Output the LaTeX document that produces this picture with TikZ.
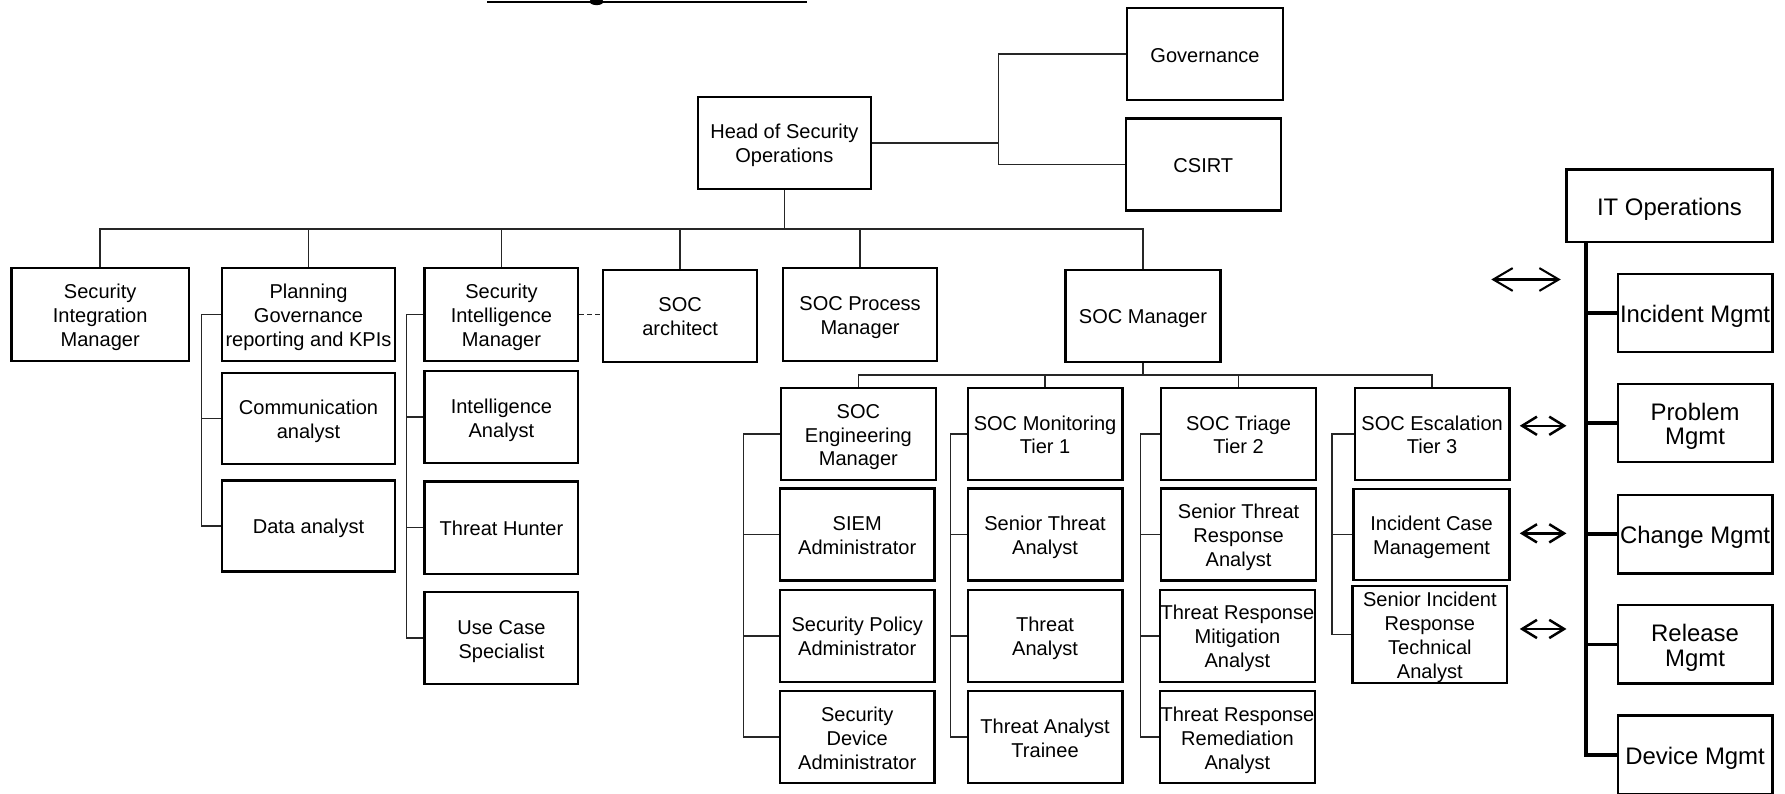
\documentclass[tikz,border=0pt]{standalone}
\usepackage{fontspec}
\setmainfont{Liberation Sans}
\usetikzlibrary{arrows.meta,calc}
\newcommand\bx[1]{\rule{0pt}{1.03em}#1\rule[-0.23em]{0pt}{0.23em}}
\begin{document}
\begin{tikzpicture}[x=1pt,y=-1pt]
\tikzset{
  box/.style={draw, line width=2pt, align=center, inner sep=0pt, font=\fontsize{17.6}{21}\selectfont},
  itbox/.style={box, font=\fontsize{21}{21.5}\selectfont},
  sz/.style 2 args={minimum width=#1, minimum height=#2},
  conn/.style={line width=1.3pt, black!85},
  itconn/.style={line width=3.8pt, line cap=rect},
  itbr/.style={line width=3.2pt},
  dbl/.style={{Straight Barb[length=17pt,width=20pt]}-{Straight Barb[length=17pt,width=20pt]}, line width=1.8pt},
  dbls/.style={{Straight Barb[length=13pt,width=16pt]}-{Straight Barb[length=13pt,width=16pt]}, line width=2.2pt},
}
\useasboundingbox (0,0) rectangle (1568,697);

% title underline (cut off at the top)
\coordinate (tl) at (428,1.5);
\coordinate (tr) at (709,1.5);
\draw[line width=2pt] (tl) -- (tr);
\fill (524,1.5) ellipse (6 and 3);

% top
\node[box, sz={152pt}{81pt}] (head) at (689,125.5) {\bx{Head of Security\\Operations}};
\node[box, sz={137pt}{81pt}] (gov) at (1058.5,47.5) {\bx{Governance}};
\node[box, sz={136pt}{81pt}] (csirt) at (1057,144.5) {\bx{CSIRT}};

% level 1
\node[box, sz={156pt}{81.5pt}] (sim) at (88,276.25) {\bx{Security\\Integration\\Manager}};
\node[box, sz={152pt}{81.5pt}] (pg) at (271,276.25) {\bx{Planning\\Governance\\reporting and KPIs}};
\node[box, sz={135pt}{81.5pt}] (sint) at (440.5,276.25) {\bx{Security\\Intelligence\\Manager}};
\node[box, sz={135pt}{81pt}] (arch) at (597.5,277.5) {\bx{SOC\\architect}};
\node[box, sz={135pt}{81.5pt}] (proc) at (755.5,276.25) {\bx{SOC Process\\Manager}};
\node[box, sz={136pt}{81pt}] (socm) at (1004,277.5) {\bx{SOC Manager}};

% planning children
\node[box, sz={152pt}{80pt}] (comm) at (271,367.6) {\bx{Communication\\analyst}};
\node[box, sz={152pt}{80pt}] (data) at (271,462) {\bx{Data analyst}};

% intelligence children
\node[box, sz={135pt}{81pt}] (ia) at (440.5,366.5) {\bx{Intelligence\\Analyst}};
\node[box, sz={135pt}{81pt}] (th) at (440.5,463.5) {\bx{Threat Hunter}};
\node[box, sz={135pt}{81pt}] (uc) at (440.5,560.5) {\bx{Use Case\\Specialist}};

% level 2
\node[box, sz={136pt}{80.5pt}] (eng) at (754,381.25) {\bx{SOC\\Engineering\\Manager}};
\node[box, sz={136pt}{80.5pt}] (mon) at (918,381.25) {\bx{SOC Monitoring\\Tier 1}};
\node[box, sz={136pt}{80.5pt}] (tri) at (1088,381.25) {\bx{SOC Triage\\Tier 2}};
\node[box, sz={136pt}{80.5pt}] (esc) at (1258,381.25) {\bx{SOC Escalation\\Tier 3}};

\node[box, sz={136pt}{81pt}] (siem) at (753,469.5) {\bx{SIEM\\Administrator}};
\node[box, sz={136pt}{81pt}] (pol) at (753,558.5) {\bx{Security Policy\\Administrator}};
\node[box, sz={136pt}{81pt}] (dev) at (753,647.5) {\bx{Security\\Device\\Administrator}};

\node[box, sz={136pt}{81pt}] (sta) at (918,469.5) {\bx{Senior Threat\\Analyst}};
\node[box, sz={136pt}{81pt}] (ta) at (918,558.5) {\bx{Threat\\Analyst}};
\node[box, sz={136pt}{81pt}] (tat) at (918,647.5) {\bx{Threat Analyst\\Trainee}};

\node[box, sz={136pt}{81pt}] (stra) at (1088,469.5) {\bx{Senior Threat\\Response\\Analyst}};
\node[box, sz={136pt}{81pt}] (trm) at (1087,558.5) {\bx{Threat Response\\Mitigation\\Analyst}};
\node[box, sz={136pt}{81pt}] (trr) at (1087,647.5) {\bx{Threat Response\\Remediation\\Analyst}};

\node[box, sz={137pt}{80pt}] (icm) at (1257.5,469.5) {\bx{Incident Case\\Management}};
\node[box, sz={136pt}{81pt}] (sirt) at (1256,557.5) {\bx{Senior Incident\\Response\\Technical\\Analyst}};

% IT operations
\node[itbox, sz={181pt}{63.5pt}] (itops) at (1466.5,180.75) {\bx{IT Operations}};
\node[itbox, sz={136pt}{69pt}] (inc) at (1489,275) {\bx{Incident Mgmt}};
\node[itbox, sz={136pt}{69pt}] (prob) at (1489,371.5) {\bx{Problem\\Mgmt}};
\node[itbox, sz={136pt}{69pt}] (chg) at (1489,469.3) {\bx{Change Mgmt}};
\node[itbox, sz={136pt}{69pt}] (rel) at (1489,566) {\bx{Release\\Mgmt}};
\node[itbox, sz={136pt}{69pt}] (devm) at (1489,663) {\bx{Device Mgmt}};

% head connectors
\coordinate (gj) at (877,125.5);
\draw[conn] (head.east) -- (gj);
\draw[conn] (gov.west) -| (gj) |- (csirt.west);

\coordinate (bus1) at (689,201);
\draw[conn] (head.south) -- (bus1);
\draw[conn] (sim.north) -- (sim.north |- bus1) -- (socm.north |- bus1) -- (socm.north);
\draw[conn] (pg.north) -- (pg.north |- bus1);
\draw[conn] (sint.north) -- (sint.north |- bus1);
\draw[conn] (arch.north) -- (arch.north |- bus1);
\draw[conn] (proc.north) -- (proc.north |- bus1);

\draw[conn, dash pattern=on 4pt off 3pt] (sint.east) -- (sint.east -| arch.west);

% planning spine
\coordinate (pgs) at (177,276.25);
\draw[conn] (pg.west) -- (pgs) |- (data.west);
\draw[conn] (comm.west) -- (comm.west -| pgs);

% intelligence spine
\coordinate (sis) at (357,276.25);
\draw[conn] (sint.west) -- (sis) |- (uc.west);
\draw[conn] (ia.west) -- (ia.west -| sis);
\draw[conn] (th.west) -- (th.west -| sis);

% SOC manager bus
\coordinate (bus2) at (1004,329.5);
\draw[conn] (socm.south) -- (bus2);
\draw[conn] (eng.north) -- (eng.north |- bus2) -- (esc.north |- bus2) -- (esc.north);
\draw[conn] (mon.north) -- (mon.north |- bus2);
\draw[conn] (tri.north) -- (tri.north |- bus2);

% level 2 spines
\coordinate (es) at (653,381.25);
\draw[conn] (eng.west) -- (es) |- (dev.west);
\draw[conn] (siem.west) -- (siem.west -| es);
\draw[conn] (pol.west) -- (pol.west -| es);

\coordinate (ms) at (835,381.25);
\draw[conn] (mon.west) -- (ms) |- (tat.west);
\draw[conn] (sta.west) -- (sta.west -| ms);
\draw[conn] (ta.west) -- (ta.west -| ms);

\coordinate (ts) at (1002,381.25);
\draw[conn] (tri.west) -- (ts) |- (trr.west);
\draw[conn] (stra.west) -- (stra.west -| ts);
\draw[conn] (trm.west) -- (trm.west -| ts);

\coordinate (xs) at (1170,381.25);
\draw[conn] (esc.west) -- (xs) |- (sirt.west);
\draw[conn] (icm.west) -- (icm.west -| xs);

% IT spine
\coordinate (its) at (1393,663);
\draw[itconn] (itops.south -| its) -- (its);
\draw[itbr] (its) -- (devm.west);
\draw[itbr] (inc.west) -- (inc.west -| its);
\draw[itbr] (prob.west) -- (prob.west -| its);
\draw[itbr] (chg.west) -- (chg.west -| its);
\draw[itbr] (rel.west) -- (rel.west -| its);

% double arrows
\coordinate (a1l) at (1310,245.5); \coordinate (a1r) at (1371,245.5);
\draw[dbl] (a1l) -- (a1r);
\coordinate (a2l) at (1335,374); \coordinate (a2r) at (1376,374);
\draw[dbls] (a2l) -- (a2r);
\coordinate (a3l) at (1335,468.5); \coordinate (a3r) at (1376,468.5);
\draw[dbls] (a3l) -- (a3r);
\coordinate (a4l) at (1335,552.5); \coordinate (a4r) at (1376,552.5);
\draw[dbls] (a4l) -- (a4r);
\end{tikzpicture}
\end{document}
